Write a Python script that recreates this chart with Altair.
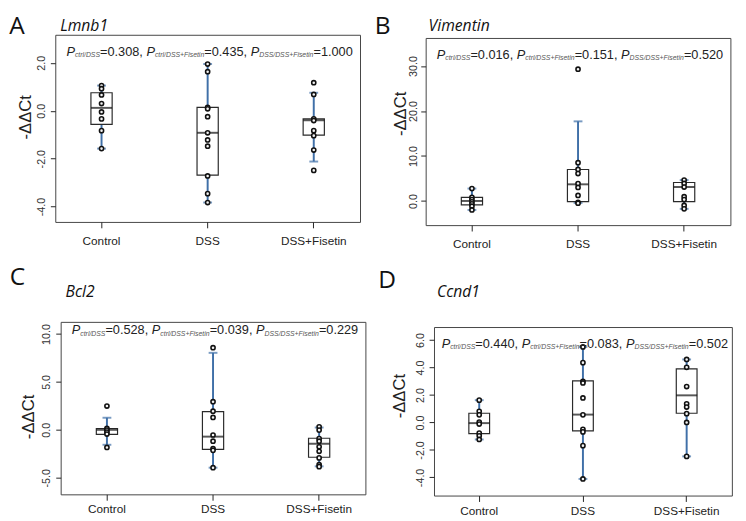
import altair as alt
import pandas as pd

groups = ["Control", "DSS", "DSS+Fisetin"]

# ---- Lmnb1 (panel A) ----
lmnb1_control = [1.05, 0.92, 0.66, 0.30, -0.05, -0.34, -0.83, -1.58]
lmnb1_dss = [1.95, 1.63, 0.14, 0.08, -0.25, -0.92, -1.22, -1.48, -2.72, -3.46, -3.83]
lmnb1_fisetin = [1.17, 0.68, -0.34, -0.41, -0.83, -1.04, -1.64, -2.49]
# whisker low, Q1, median, Q3, whisker high
lmnb1_box = [[-1.58, -0.57, 0.12, 0.75, 1.05],
             [-3.83, -2.69, -0.92, 0.14, 1.95],
             [-2.12, -1.02, -0.40, -0.34, 0.75]]
lmnb1_p = ["0.308", "0.435", "1.000"]

# ---- Vimentin (panel B) ----
vim_control = [2.76, 0.8, 0.3, -0.2, -0.65, -1.16, -2.0]
vim_dss = [29.3, 8.5, 7.0, 6.1, 3.85, 3.0, 1.23, -0.3, -0.5]
vim_fisetin = [4.65, 3.9, 3.1, 0.95, 0.3, -1.0, -1.75]
vim_box = [[-2.0, -0.87, 0.0, 0.8, 2.76],
           [-0.44, -0.15, 3.7, 7.0, 17.7],
           [-1.75, -0.15, 3.1, 4.1, 4.65]]
vim_p = ["0.016", "0.151", "0.520"]

# ---- Bcl2 (panel C) ----
bcl2_control = [2.48, 0.14, -0.03, -0.24, -0.44, -1.84]
bcl2_dss = [8.57, 2.93, 1.94, 1.29, -0.54, -1.19, -1.97, -2.14, -3.95]
bcl2_fisetin = [0.31, -0.03, -0.92, -1.19, -1.77, -2.24, -2.93, -3.64, -3.84]
bcl2_box = [[-1.56, -0.48, 0.0, 0.14, 1.26],
            [-3.95, -2.04, -0.71, 1.9, 8.03],
            [-3.81, -2.86, -1.46, -0.88, 0.24]]
bcl2_p = ["0.528", "0.039", "0.229"]

# ---- Ccnd1 (panel D) ----
ccnd1_control = [1.62, 0.81, 0.55, 0.02, -0.12, -0.78, -0.97, -1.24]
ccnd1_dss = [5.49, 4.35, 2.99, 2.87, 1.78, 0.55, -0.50, -0.69, -1.69, -4.11]
ccnd1_fisetin = [4.58, 4.01, 2.61, 1.35, 1.12, 0.64, 0.0, -2.47]
ccnd1_box = [[-1.24, -0.81, -0.05, 0.67, 1.62],
             [-4.11, -0.62, 0.57, 3.02, 5.49],
             [-2.47, 0.67, 1.97, 3.9, 4.58]]
ccnd1_p = ["0.440", "0.083", "0.502"]

BLUE = "#4070a8"
FONT = "Liberation Sans"

# Arial / Liberation Sans advance widths (1/1000 em)
CW = {" ": 278, ",": 278, ".": 278, "/": 278, "=": 584, "+": 584, "P": 667,
      "c": 500, "t": 278, "r": 333, "l": 222, "D": 722, "S": 667, "F": 611,
      "i": 222, "s": 500, "e": 556, "n": 556}
for d in "0123456789":
    CW[d] = 556

MAIN_FS = 13
SUB_FS = 7


def tw(s, fs):
    return sum(CW[c] for c in s) / 1000.0 * fs


def ptext_frame(pvals, center, base):
    subs = ["ctrl/DSS", "ctrl/DSS+Fisetin", "DSS/DSS+Fisetin"]
    segs = []
    for i, (sub, pv) in enumerate(zip(subs, pvals)):
        segs.append(("P", "P"))
        segs.append(("S", sub))
        segs.append(("V", "=" + pv + (", " if i < 2 else "")))
    widths = [tw(t, SUB_FS if k == "S" else MAIN_FS) for k, t in segs]
    x = center - sum(widths) / 2.0
    rows = []
    for (k, t), w in zip(segs, widths):
        rows.append({"kind": k, "t": t.rstrip(), "px": x,
                     "py": base + (1.5 if k == "S" else 0.0)})
        x += w
    return pd.DataFrame(rows)


def text_layer(df, size, style, color):
    return alt.Chart(df).mark_text(
        align="left", baseline="alphabetic", font=FONT, fontSize=size,
        fontStyle=style, color=color
    ).encode(
        x=alt.X("px:Q", scale=None, axis=None),
        y=alt.Y("py:Q", scale=None, axis=None),
        text="t:N",
    )


def panel(letter, gene, pts, box, pvals, dom, ticks, m):
    W, H = m["W"], m["H"]
    box_df = pd.DataFrame({
        "group": groups,
        "wlo": [b[0] for b in box], "q1": [b[1] for b in box],
        "med": [b[2] for b in box], "q3": [b[3] for b in box],
        "whi": [b[4] for b in box],
    })
    pts_df = pd.DataFrame({
        "group": [g for g, vals in zip(groups, pts) for _ in vals],
        "value": [v for vals in pts for v in vals],
    })
    xs = alt.Scale(type="band", domain=groups, paddingInner=0.80, paddingOuter=0.336)
    xax = alt.Axis(title=None, labelAngle=0, labelFont=FONT, labelFontSize=12,
                   labelColor="#222", tickColor="#222", tickSize=6,
                   labelPadding=m["xpad"], domain=False, grid=False)
    ys = alt.Scale(domain=dom, nice=False, zero=False)
    yax = alt.Axis(values=ticks, title="-ΔΔCt",
                   labelExpr="datum.value < 0 ? '-' + format(-datum.value, '.1f') : format(datum.value, '.1f')",
                   labelAngle=270, labelAlign="center", labelBaseline="bottom",
                   labelPadding=m["ypad"], labelFont=FONT, labelFontSize=11,
                   labelColor="#333", tickSize=5, tickColor="#222",
                   domain=False, grid=False, titleFont=FONT, titleFontSize=17,
                   titleFontWeight="normal", titleColor="#222", titleAngle=270,
                   titleAlign="center", titleBaseline="alphabetic",
                   titleX=m["tx"], titleY=m["ty"])

    def X():
        return alt.X("group:N", scale=xs, axis=xax, sort=groups)

    def Y(f):
        return alt.Y(f, type="quantitative", scale=ys, axis=yax)

    whisk = alt.Chart(box_df).mark_rule(color=BLUE, strokeWidth=2).encode(
        x=X(), y=Y("wlo"), y2="whi")
    cap_hi = alt.Chart(box_df).mark_tick(color=BLUE, thickness=2, size=9).encode(
        x=X(), y=Y("whi"))
    cap_lo = alt.Chart(box_df).mark_tick(color=BLUE, thickness=2, size=9).encode(
        x=X(), y=Y("wlo"))
    rect = alt.Chart(box_df).mark_bar(fill="white", stroke="#2a2a2a", strokeWidth=1.2).encode(
        x=X(), y=Y("q1"), y2="q3")
    med = alt.Chart(box_df).mark_tick(color="#111", thickness=2, size=21.5).encode(
        x=X(), y=Y("med"))
    dots = alt.Chart(pts_df).mark_point(
        shape="circle", filled=True, fill="#f4f4f4", stroke="#111",
        strokeWidth=1.6, size=18, opacity=1
    ).encode(x=X(), y=Y("value"))

    pdf = ptext_frame(pvals, W / 2.0 + 2, m["pbase"])
    p_main = text_layer(pdf[pdf.kind == "P"], MAIN_FS, "italic", "#222")
    p_sub = text_layer(pdf[pdf.kind == "S"], SUB_FS, "italic", "#555")
    p_val = text_layer(pdf[pdf.kind == "V"], MAIN_FS, "normal", "#222")

    one = pd.DataFrame({"k": [0]})
    let = alt.Chart(one).mark_text(
        text=letter, align="left", baseline="alphabetic", font="Open Sans",
        fontSize=25, color="#111"
    ).encode(x=alt.value(m["lx"]), y=alt.value(m["ly"]))
    ttl = alt.Chart(one).mark_text(
        text=gene, align="left", baseline="alphabetic", font="Open Sans",
        fontSize=16, fontStyle="italic", color="#111"
    ).encode(x=alt.value(m["gx"]), y=alt.value(m["gy"]))

    layers = [whisk, cap_hi, cap_lo, rect, med, dots, p_main, p_sub, p_val, let, ttl]
    # invisible layout anchor (zero-length, fully transparent rule)
    if "ax" in m:
        anchor = alt.Chart(one).mark_rule(strokeOpacity=0, opacity=0).encode(
            x=alt.value(m["ax"]), x2=alt.value(m["ax"]),
            y=alt.value(m["ay"]), y2=alt.value(m["ay"]))
        layers.append(anchor)
    return alt.layer(*layers).properties(width=W, height=H)


metaA = dict(W=311, H=191, lx=-47, ly=-1.25, gx=5, gy=-4, pbase=21.4,
             tx=-25, ty=83.7, xpad=8, ypad=4, ax=10, ay=191 + 31.5)
metaB = dict(W=311, H=191, lx=-52, ly=-4.25, gx=3, gy=-7, pbase=21,
             tx=-21, ty=77, xpad=8, ypad=2, ax=311 + 7, ay=95)
metaC = dict(W=311, H=176, lx=-52, ly=-38, gx=5, gy=-25, pbase=12.5,
             tx=-28, ty=96.5, xpad=4, ypad=4, ax=10, ay=176 + 27.5)
metaD = dict(W=304, H=172, lx=-57, ly=-40, gx=3, gy=-31, pbase=21,
             tx=-30, ty=70, xpad=4, ypad=4)

pA = panel("A", "Lmnb1", [lmnb1_control, lmnb1_dss, lmnb1_fisetin], lmnb1_box,
           lmnb1_p, [-4.64, 3.17], [-4, -2, 0, 2], metaA)
pB = panel("B", "Vimentin", [vim_control, vim_dss, vim_fisetin], vim_box,
           vim_p, [-5.37, 36.24], [0, 10, 20, 30], metaB)
pC = panel("C", "Bcl2", [bcl2_control, bcl2_dss, bcl2_fisetin], bcl2_box,
           bcl2_p, [-6.73, 11.26], [-5, 0, 5, 10], metaC)
pD = panel("D", "Ccnd1", [ccnd1_control, ccnd1_dss, ccnd1_fisetin], ccnd1_box,
           ccnd1_p, [-5.32, 6.94], [-4, -2, 0, 2, 4, 6], metaD)

row1 = alt.hconcat(pA, pB, spacing=13, center=True)
row2 = alt.hconcat(pC, pD, spacing=11, center=True)

chart = alt.vconcat(row1, row2, spacing=11, center=True).properties(
    padding=0, background="white"
).configure_view(stroke="#444", strokeWidth=1)

chart.save("out.html", embed_options={"renderer": "svg", "actions": False})
